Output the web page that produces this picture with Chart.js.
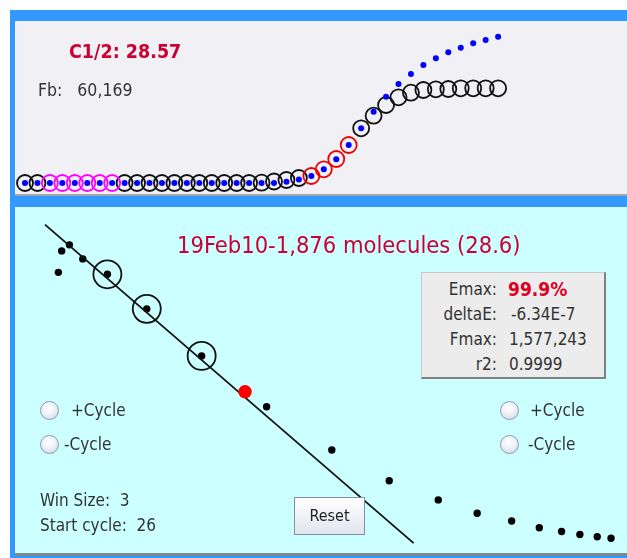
<!DOCTYPE html>
<html>
<head>
<meta charset="utf-8">
<script src="https://cdn.jsdelivr.net/npm/chart.js@4.4.0/dist/chart.umd.min.js"></script>
<style>
  body { margin: 0; width: 627px; height: 558px; overflow: hidden; background: #fff; position: relative;
         font-family: "DejaVu Sans Condensed", "DejaVu Sans", sans-serif; color: #333; }
  .abs { position: absolute; white-space: nowrap; }
  #frame { left: 10px; top: 10px; width: 617px; height: 548px; background: #3399ff; }
  #topPanel { left: 15px; top: 21px; width: 612px; height: 173px; background: #f0f0f5; border-bottom: 2px solid #a3a3a8; }
  #botPanel { left: 15px; top: 207px; width: 612px; height: 346px; background: #ccffff; border-bottom: 3px solid #7c8c8c; }
  canvas { position: absolute; }
  .red { color: #cc0033; }
  .txt { font-size: 17px; line-height: 20px; }
  #box { left: 421px; top: 272px; width: 182px; height: 104px; background: #ececec;
         border-top: 1px solid #c8c8c8; border-left: 1px solid #c8c8c8;
         border-right: 2px solid #808080; border-bottom: 2px solid #808080; }
  .radio { width: 17px; height: 17px; border-radius: 50%; border: 1px solid #8c9ab4;
           background: radial-gradient(circle at 45% 35%, #ffffff 0%, #eef1f7 45%, #c9d0de 100%); }
  #reset { left: 294px; top: 497px; width: 69px; height: 36px; border: 1px solid #7f8fa8;
           background: linear-gradient(#ffffff, #dfe5ef); font-size: 16px; line-height: 36px; text-align: center; color: #222; }
</style>
</head>
<body>
<div id="frame" class="abs"></div>
<div id="topPanel" class="abs"></div>
<div id="botPanel" class="abs"></div>
<canvas id="ampChart" width="612" height="173" style="left:15px;top:21px;width:612px;height:173px"></canvas>
<canvas id="effChart" width="612" height="346" style="left:15px;top:207px;width:612px;height:346px"></canvas>

<div class="abs red" style="left:69px;top:40px;font-size:19.5px;font-weight:bold;line-height:24px">C1/2: 28.57</div>
<div class="abs" style="left:38px;top:79px;font-size:17.5px;line-height:22px">Fb:&nbsp;&nbsp; 60,169</div>

<div class="abs red" style="left:177px;top:230px;font-size:23.5px;line-height:30px">19Feb10-1,876 molecules (28.6)</div>

<div id="box" class="abs"></div>
<div class="abs txt" style="left:421px;top:279px;width:76px;text-align:right">Emax:</div>
<div class="abs" style="left:508px;top:277px;font-size:19px;font-weight:bold;line-height:24px;color:#dd0022">99.9%</div>
<div class="abs txt" style="left:421px;top:304px;width:76px;text-align:right">deltaE:</div>
<div class="abs txt" style="left:511px;top:304px">-6.34E-7</div>
<div class="abs txt" style="left:421px;top:329px;width:76px;text-align:right">Fmax:</div>
<div class="abs txt" style="left:509px;top:329px">1,577,243</div>
<div class="abs txt" style="left:421px;top:354px;width:76px;text-align:right">r2:</div>
<div class="abs txt" style="left:509px;top:354px">0.9999</div>

<div class="abs radio" style="left:40px;top:401px"></div>
<div class="abs txt" style="left:71px;top:400px">+Cycle</div>
<div class="abs radio" style="left:40px;top:435px"></div>
<div class="abs txt" style="left:64px;top:434px">-Cycle</div>
<div class="abs radio" style="left:500px;top:401px"></div>
<div class="abs txt" style="left:530px;top:400px">+Cycle</div>
<div class="abs radio" style="left:500px;top:435px"></div>
<div class="abs txt" style="left:528px;top:434px">-Cycle</div>

<div class="abs txt" style="left:40px;top:490px">Win Size:&nbsp; 3</div>
<div class="abs txt" style="left:40px;top:515px">Start cycle:&nbsp; 26</div>

<script>
// amplification profile (fluorescence in thousands)
const cycles = [1, 2, 3, 4, 5, 6, 7, 8, 9, 10, 11, 12, 13, 14, 15, 16, 17, 18, 19, 20,
                21, 22, 23, 24, 25, 26, 27, 28, 29, 30, 31, 32, 33, 34, 35, 36, 37, 38, 39];
const fluor = [60, 60, 60, 60, 60, 60, 60, 60, 60, 60, 60, 60, 60, 60, 60, 60, 60, 60, 60, 63,
               75, 90, 110, 130, 197, 300, 440, 607, 733, 840, 917, 963, 990, 997, 1000, 1007, 1007, 1007, 1007];
const fitted = [60, 60, 60, 60, 60, 60, 60, 60, 60, 60, 60, 60, 60, 60, 60, 60, 60, 60, 60, 60,
                60, 72, 95, 130, 197, 297, 440, 607, 773, 923, 1050, 1150, 1240, 1307, 1367, 1413, 1457, 1490, 1523];
const baselineCycles = [3, 4, 5, 6, 7, 8];
const windowCycles = [24, 25, 26, 27];

// cycle efficiency vs fluorescence
const effF = [55, 69, 102, 159, 264, 432, 666, 851, 943, 1221, 1466, 1675, 1841, 1988, 2106, 2201, 2279, 2353, 2412];
const effE = [0.852, 0.919, 0.938, 0.894, 0.846, 0.738, 0.591, 0.479, 0.432, 0.297, 0.201, 0.141, 0.099,
              0.075, 0.054, 0.042, 0.033, 0.026, 0.021];
const winIdx = [4, 5, 6];
const currentIdx = 7;
const lineF = [-2, 1570];
const lineE = [1.001, 0.006];

const pts = (xs, ys) => xs.map((x, i) => ({ x: x, y: ys[i] }));
const ampPts = pts(cycles, fluor);
const pick = list => ampPts.filter(p => list.includes(p.x));
const plain = ampPts.filter(p => !baselineCycles.includes(p.x) && !windowCycles.includes(p.x));

function ring(data, color, order, r) {
    return { data: data, pointRadius: r, pointHoverRadius: r, pointBorderWidth: 1.8,
             pointBackgroundColor: 'rgba(0,0,0,0)', pointBorderColor: color, order: order, clip: false };
}

const common = {
    responsive: false,
    animation: false,
    events: [],
    layout: { padding: 0, autoPadding: false },
    plugins: { legend: { display: false }, tooltip: { enabled: false } }
};

new Chart(document.getElementById('ampChart'), {
    type: 'scatter',
    data: {
        datasets: [
            { data: pts(cycles, fitted), pointRadius: 3, pointBorderWidth: 0,
              pointBackgroundColor: '#0000ff', order: 0, clip: false },
            ring(pick(windowCycles), '#ee0000', 1, 8),
            ring(pick(baselineCycles), '#ff00ff', 2, 8),
            ring(plain, '#111111', 3, 8)
        ]
    },
    options: Object.assign({}, common, {
        scales: {
            x: { type: 'linear', display: false, min: 0.197, max: 49.353 },
            y: { type: 'linear', display: false, min: -50, max: 1680 }
        }
    })
});

const effPts = pts(effF, effE);
new Chart(document.getElementById('effChart'), {
    type: 'scatter',
    data: {
        datasets: [
            { data: [effPts[currentIdx]], pointRadius: 6.8, pointBorderWidth: 0,
              pointBackgroundColor: '#ff0000', order: 0, clip: false },
            { type: 'line', data: pts(lineF, lineE), borderColor: '#111', borderWidth: 1.8,
              pointRadius: 0, order: 1, clip: false },
            ring(winIdx.map(i => effPts[i]), '#111111', 2, 14),
            { data: effPts.filter((p, i) => i !== currentIdx), pointRadius: 3.7, pointBorderWidth: 0,
              pointBackgroundColor: '#000', order: 3, clip: false }
        ]
    },
    options: Object.assign({}, common, {
        scales: {
            x: { type: 'linear', display: false, min: -130, max: 2480 },
            y: { type: 'linear', display: false, min: -0.025, max: 1.05625 }
        }
    })
});
</script>
<div id="reset" class="abs">Reset</div>
</body>
</html>
